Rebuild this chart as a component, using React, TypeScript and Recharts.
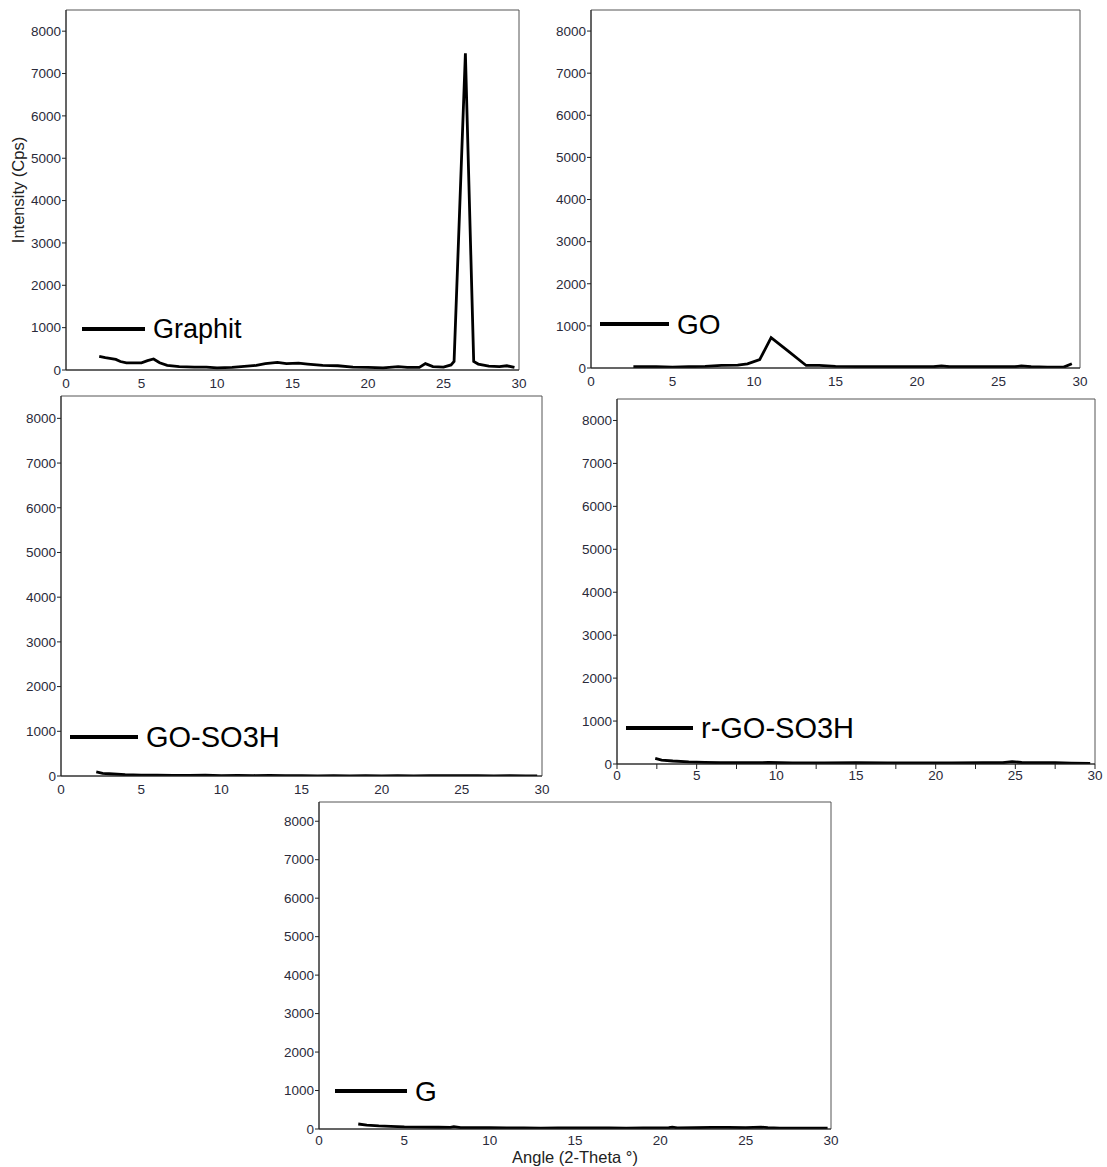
import React from "react";
import { LineChart, Line, XAxis, YAxis, ReferenceArea, Label } from "recharts";

// XRD scans, angle (2-theta) vs intensity (cps)
const graphit = [
  { a: 2.2, i: 320 }, { a: 2.6, i: 290 }, { a: 3.0, i: 270 }, { a: 3.3, i: 250 }, { a: 3.6, i: 200 },
  { a: 4.0, i: 170 }, { a: 4.6, i: 170 }, { a: 5.0, i: 170 }, { a: 5.4, i: 220 }, { a: 5.8, i: 260 },
  { a: 6.2, i: 170 }, { a: 6.7, i: 110 }, { a: 7.5, i: 80 }, { a: 8.5, i: 70 }, { a: 9.3, i: 70 },
  { a: 10.0, i: 50 }, { a: 11.0, i: 60 }, { a: 12.0, i: 90 }, { a: 12.6, i: 110 }, { a: 13.2, i: 150 },
  { a: 14.0, i: 180 }, { a: 14.6, i: 150 }, { a: 15.4, i: 160 }, { a: 16.0, i: 140 }, { a: 17.0, i: 110 },
  { a: 18.0, i: 100 }, { a: 19.0, i: 70 }, { a: 20.0, i: 60 }, { a: 21.0, i: 50 }, { a: 22.0, i: 80 },
  { a: 22.6, i: 60 }, { a: 23.4, i: 60 }, { a: 23.8, i: 150 }, { a: 24.3, i: 80 }, { a: 25.0, i: 70 },
  { a: 25.5, i: 120 }, { a: 25.7, i: 200 }, { a: 26.45, i: 7480 }, { a: 27.0, i: 200 }, { a: 27.3, i: 140 },
  { a: 28.0, i: 90 }, { a: 28.7, i: 80 }, { a: 29.2, i: 100 }, { a: 29.7, i: 60 },
];

const go = [
  { a: 2.6, i: 30 }, { a: 4, i: 30 }, { a: 5, i: 20 }, { a: 6, i: 30 }, { a: 7, i: 40 },
  { a: 8, i: 60 }, { a: 9, i: 70 }, { a: 9.6, i: 100 }, { a: 10.35, i: 200 }, { a: 11.05, i: 720 },
  { a: 12.1, i: 400 }, { a: 13.2, i: 60 }, { a: 14, i: 60 }, { a: 15, i: 40 }, { a: 17, i: 30 },
  { a: 19, i: 30 }, { a: 21, i: 30 }, { a: 21.5, i: 50 }, { a: 22, i: 30 }, { a: 24, i: 30 },
  { a: 26, i: 30 }, { a: 26.4, i: 50 }, { a: 27, i: 30 }, { a: 28, i: 20 }, { a: 29, i: 20 },
  { a: 29.5, i: 100 },
];

const goSo3h = [
  { a: 2.2, i: 90 }, { a: 2.6, i: 60 }, { a: 3, i: 50 }, { a: 4, i: 30 }, { a: 5, i: 20 },
  { a: 6, i: 20 }, { a: 7, i: 15 }, { a: 8, i: 15 }, { a: 9, i: 20 }, { a: 10, i: 10 },
  { a: 11, i: 15 }, { a: 12, i: 10 }, { a: 13, i: 15 }, { a: 14, i: 10 }, { a: 15, i: 10 },
  { a: 16, i: 5 }, { a: 17, i: 10 }, { a: 18, i: 5 }, { a: 19, i: 10 }, { a: 20, i: 5 },
  { a: 21, i: 10 }, { a: 22, i: 5 }, { a: 23, i: 10 }, { a: 24, i: 10 }, { a: 25, i: 10 },
  { a: 26, i: 10 }, { a: 27, i: 5 }, { a: 28, i: 10 }, { a: 29, i: 5 }, { a: 29.7, i: 5 },
];

const rGoSo3h = [
  { a: 2.4, i: 130 }, { a: 2.8, i: 90 }, { a: 3.5, i: 70 }, { a: 4.5, i: 50 }, { a: 5.5, i: 40 },
  { a: 6.5, i: 30 }, { a: 8, i: 30 }, { a: 9.5, i: 35 }, { a: 11, i: 25 }, { a: 13, i: 25 },
  { a: 15, i: 30 }, { a: 17, i: 25 }, { a: 19, i: 25 }, { a: 21, i: 25 }, { a: 23, i: 30 },
  { a: 24.2, i: 30 }, { a: 24.8, i: 55 }, { a: 25.4, i: 35 }, { a: 26.5, i: 30 }, { a: 27.5, i: 30 },
  { a: 28.5, i: 20 }, { a: 29.7, i: 15 },
];

const gSample = [
  { a: 2.3, i: 130 }, { a: 2.8, i: 100 }, { a: 3.5, i: 80 }, { a: 4.2, i: 70 }, { a: 5, i: 55 },
  { a: 6, i: 50 }, { a: 7, i: 45 }, { a: 7.7, i: 40 }, { a: 7.9, i: 60 }, { a: 8.3, i: 35 },
  { a: 9, i: 35 }, { a: 10, i: 35 }, { a: 11, i: 30 }, { a: 12, i: 30 }, { a: 13, i: 25 },
  { a: 14, i: 30 }, { a: 15, i: 30 }, { a: 16, i: 30 }, { a: 17, i: 30 }, { a: 18, i: 25 },
  { a: 19, i: 30 }, { a: 20.5, i: 35 }, { a: 20.7, i: 50 }, { a: 21, i: 30 }, { a: 22, i: 35 },
  { a: 23, i: 40 }, { a: 24, i: 40 }, { a: 25, i: 35 }, { a: 25.9, i: 50 }, { a: 26.3, i: 35 },
  { a: 27, i: 25 }, { a: 28, i: 25 }, { a: 29, i: 25 }, { a: 29.8, i: 20 },
];

const xTicks = [0, 5, 10, 15, 20, 25, 30];
const xTicksMinor = [0, 2.5, 5, 7.5, 10, 12.5, 15, 17.5, 20, 22.5, 25, 27.5, 30];
const yTicks = [0, 1000, 2000, 3000, 4000, 5000, 6000, 7000, 8000];

const FONT = "'Liberation Sans', Arial, sans-serif";
const tickStyle = { fill: "#2a2a3a", fontSize: 13.5, fontFamily: FONT };

const YW = 60;
const PAD_T = 5;
const PAD_R = 10;

function Panel({ data, name, box, legend, legendSize = 28, yLabel = false, xLabel = false, minor = false }) {
  const [L, T, R, B] = box;
  const xh = xLabel ? 38 : 25;
  const left = L - YW;
  const top = T - PAD_T;
  const width = R - L + YW + PAD_R;
  const height = B - T + PAD_T + xh;
  const lx1 = legend[0] - left;
  const lx2 = legend[1] - left;
  const ly = legend[2] - top;
  return (
    <div style={{ position: "absolute", left, top }}>
      <LineChart width={width} height={height} data={data} margin={{ top: PAD_T, right: PAD_R, bottom: 0, left: 0 }}>
        <XAxis
          dataKey="a"
          type="number"
          domain={[0, 30]}
          ticks={minor ? xTicksMinor : xTicks}
          tickFormatter={(v) => (v % 5 === 0 ? String(v) : "")}
          interval={0}
          allowDataOverflow
          height={xh}
          stroke="#222"
          tickLine={minor}
          tickSize={5}
          tickMargin={minor || xLabel ? 1 : 3}
          tick={tickStyle}
        >
          {xLabel && (
            <Label
              content={({ viewBox }: any) => (
                <text
                  x={viewBox.x + viewBox.width / 2}
                  y={viewBox.y + 34}
                  textAnchor="middle"
                  style={{ fill: "#222", fontSize: 16.5, fontFamily: FONT }}
                >
                  Angle (2-Theta °)
                </text>
              )}
            />
          )}
        </XAxis>
        <YAxis
          type="number"
          domain={[0, 8500]}
          ticks={yTicks}
          interval={0}
          allowDataOverflow
          width={YW}
          stroke="#222"
          tickSize={4}
          tickMargin={1}
          tick={tickStyle}
        >
          {yLabel && (
            <Label
              content={({ viewBox }: any) => {
                const cx = viewBox.x + 12;
                const cy = viewBox.y + viewBox.height / 2;
                return (
                  <text
                    x={cx}
                    y={cy}
                    transform={`rotate(-90 ${cx} ${cy})`}
                    textAnchor="middle"
                    dominantBaseline="central"
                    style={{ fill: "#222", fontSize: 16.5, fontFamily: FONT }}
                  >
                    Intensity (Cps)
                  </text>
                );
              }}
            />
          )}
        </YAxis>
        <ReferenceArea x1={0} x2={30} y1={0} y2={8500} fill="none" stroke="#555" strokeWidth={1} ifOverflow="visible" />
        <Line
          type="linear"
          dataKey="i"
          name={name}
          stroke="#000"
          strokeWidth={2.8}
          dot={false}
          isAnimationActive={false}
        />
        <g>
          <line x1={lx1} x2={lx2} y1={ly} y2={ly} stroke="#000" strokeWidth={4} />
          <text
            x={lx2 + 8}
            y={ly}
            dominantBaseline="central"
            style={{ fill: "#000", fontSize: legendSize, fontFamily: FONT }}
          >
            {name}
          </text>
        </g>
      </LineChart>
    </div>
  );
}

export default function App() {
  return (
    <div style={{ position: "absolute", left: 0, top: 0, width: 1107, height: 1167, background: "#fff" }}>
      <Panel data={graphit} name="Graphit" box={[66, 10, 519, 370]} legend={[82, 145, 329]} legendSize={27} yLabel />
      <Panel data={go} name="GO" box={[591, 10, 1080, 368]} legend={[600, 669, 324]} />
      <Panel data={goSo3h} name="GO-SO3H" box={[61, 396, 542, 776]} legend={[70, 138, 737]} legendSize={29} />
      <Panel data={rGoSo3h} name="r-GO-SO3H" box={[617, 399, 1095, 764]} legend={[626, 693, 728]} legendSize={29} minor />
      <Panel data={gSample} name="G" box={[319, 802, 831, 1129]} legend={[335, 407, 1091]} xLabel />
    </div>
  );
}
